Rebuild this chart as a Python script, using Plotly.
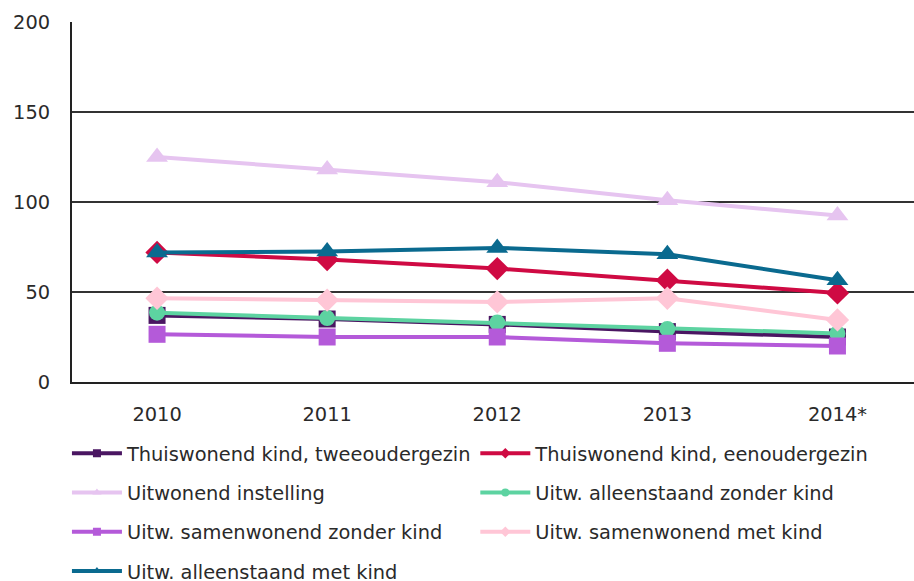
import plotly.graph_objects as go

years = ["2010", "2011", "2012", "2013", "2014*"]

thuis_twee = [37, 35, 32, 28, 25]
thuis_een = [72, 68, 63, 56.5, 49.5]
uit_instelling = [125, 118, 111, 101, 92.5]
uit_alleen_zonder = [38.5, 35.5, 33, 29.5, 27]
uit_samen_zonder = [26.5, 25, 25, 21.5, 20]
uit_samen_met = [46.5, 45.5, 44.5, 46.5, 34.5]
uit_alleen_met = [72, 72.5, 74.5, 71, 56.5]

series = [
    ("Thuiswonend kind, tweeoudergezin", thuis_twee, "#4a1662", "square", 17, "legend"),
    ("Thuiswonend kind, eenoudergezin", thuis_een, "#cf0a43", "diamond", 18, "legend2"),
    ("Uitwonend instelling", uit_instelling, "#e6c4f0", "triangle-up", 19, "legend"),
    ("Uitw. alleenstaand zonder kind", uit_alleen_zonder, "#5dd3a1", "circle", 16, "legend2"),
    ("Uitw. samenwonend zonder kind", uit_samen_zonder, "#b45ad9", "square", 17, "legend"),
    ("Uitw. samenwonend met kind", uit_samen_met, "#ffc6d6", "diamond", 18, "legend2"),
    ("Uitw. alleenstaand met kind", uit_alleen_met, "#0a6a8f", "triangle-up", 19, "legend"),
]

fig = go.Figure()
for i, (name, vals, color, symbol, size, leg) in enumerate(series):
    # plotted series
    fig.add_trace(go.Scatter(
        x=years, y=vals, name=name, mode="lines+markers",
        line=dict(color=color, width=4),
        marker=dict(symbol=symbol, size=size, color=color),
        showlegend=False, legendgroup=f"g{i}",
    ))
    # legend entry with a small marker
    fig.add_trace(go.Scatter(
        x=[None], y=[None], name=name, mode="lines+markers",
        line=dict(color=color, width=4),
        marker=dict(symbol=symbol, size=8, color=color),
        legend=leg, legendgroup=f"g{i}",
    ))

font = dict(family="DejaVu Sans", size=19.4, color="#2a2a2a")
legend_common = dict(
    orientation="v", yanchor="top", y=-0.145, xanchor="left",
    font=font, tracegroupgap=11, itemwidth=50,
    bgcolor="rgba(0,0,0,0)", borderwidth=0,
)

fig.update_layout(
    width=914, height=581,
    margin=dict(l=72, r=0, t=22, b=199, autoexpand=False),
    paper_bgcolor="white", plot_bgcolor="white",
    font=font,
    showlegend=True,
    legend=dict(x=-0.006, **legend_common),
    legend2=dict(x=0.479, **legend_common),
    xaxis=dict(
        type="category", range=[-0.5, 4.45],
        showgrid=False, showline=True, linecolor="#222222", linewidth=2,
        ticks="", ticklabelstandoff=14, tickfont=font,
    ),
    yaxis=dict(
        range=[0, 200], tickvals=[0, 50, 100, 150, 200],
        showgrid=True, gridcolor="#333333", gridwidth=2,
        showline=True, linecolor="#222222", linewidth=2,
        zeroline=False, ticks="", ticklabelstandoff=16, tickfont=font,
    ),
)

fig.write_html("out.html")
